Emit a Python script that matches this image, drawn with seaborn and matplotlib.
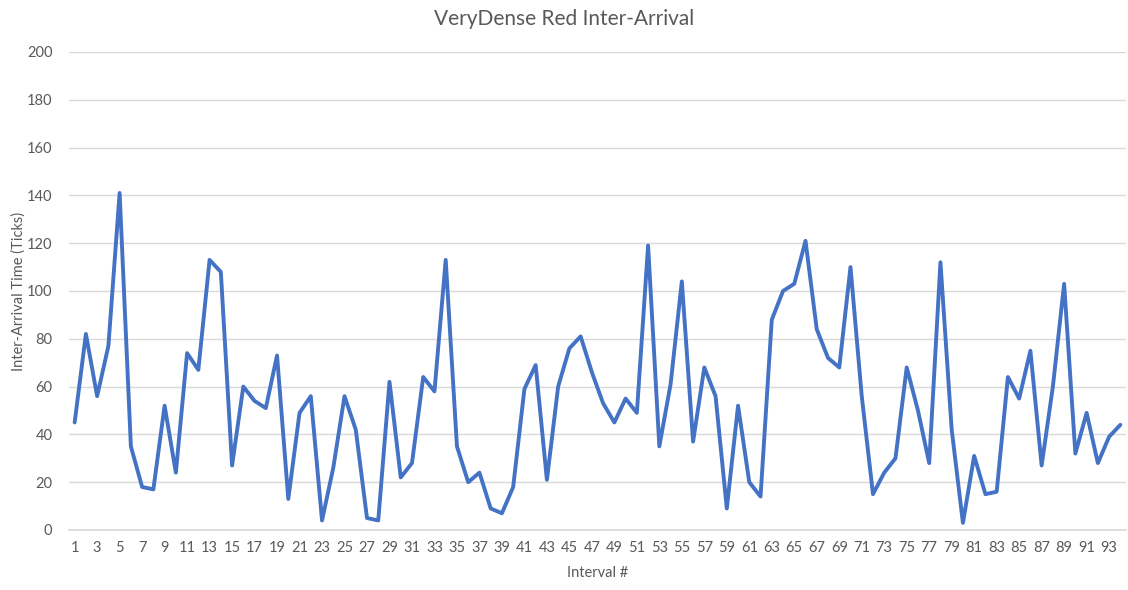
import numpy as np
import pandas as pd
import matplotlib
matplotlib.use("Agg")
import matplotlib.pyplot as plt
import seaborn as sns

# Wartości (czas między przybyciami, w tickach)
intervals = list(range(1, 95))
inter_arrival = [
    45, 82, 56, 77, 141, 35, 18, 17, 52, 24,
    74, 67, 113, 108, 27, 60, 54, 51, 73, 13,
    49, 56, 4, 26, 56, 42, 5, 4, 62, 22,
    28, 64, 58, 113, 35, 20, 24, 9, 7, 18,
    59, 69, 21, 60, 76, 81, 66, 53, 45, 55,
    49, 119, 35, 61, 104, 37, 68, 56, 9, 52,
    20, 14, 88, 100, 103, 121, 84, 72, 68, 110,
    56, 15, 24, 30, 68, 50, 28, 112, 42, 3,
    31, 15, 16, 64, 55, 75, 27, 60, 103, 32,
    49, 28, 39, 44,
]
tick_labels = [str(i) for i in intervals[::2]]
y_ticks = list(range(0, 201, 20))

df = pd.DataFrame({"Interval": intervals, "Time": inter_arrival})
df["pos"] = df["Interval"] - 1

sns.set_theme(style="white")
plt.rcParams["font.family"] = ["Lato", "DejaVu Sans"]

grey = "#595959"
fig = plt.figure(figsize=(11.28, 5.90), dpi=100)
ax = fig.add_axes([0.0612, 0.1017, 0.937, 0.8102])

sns.lineplot(data=df, x="pos", y="Time", ax=ax, color="#4472C4", linewidth=2.8)

ax.set_xlim(-0.5, len(intervals) - 0.5)
ax.set_ylim(0, 200)
ax.set_yticks(y_ticks)
ax.set_xticks(df["pos"][::2])
ax.set_xticklabels(tick_labels)
ax.tick_params(axis="both", colors=grey, labelsize=10.5, length=0)
ax.tick_params(axis="x", pad=8)
ax.tick_params(axis="y", pad=12)
ax.grid(axis="y", color="#d9d9d9", linewidth=1)
for side in ["top", "right", "left"]:
    ax.spines[side].set_visible(False)
ax.spines["bottom"].set_color("#d9d9d9")

ax.set_xlabel("Interval #", color=grey, fontsize=10.5, labelpad=8)
ax.set_ylabel("Inter-Arrival Time (Ticks)", color=grey, fontsize=10.5, labelpad=1)
fig.suptitle("VeryDense Red Inter-Arrival", color=grey, fontsize=15, y=0.985)

fig.savefig("out.png", dpi=100)
